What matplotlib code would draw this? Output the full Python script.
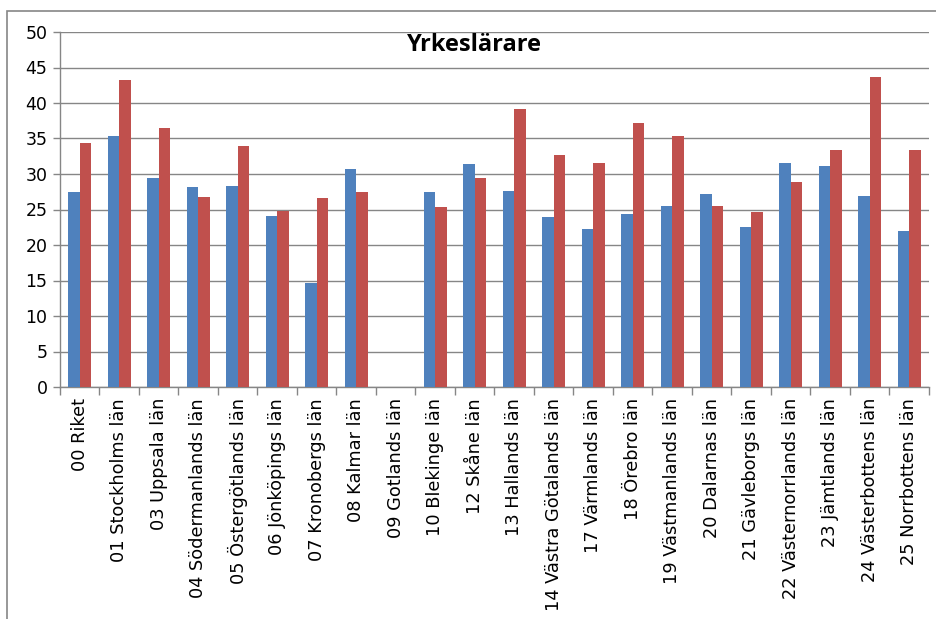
import matplotlib
matplotlib.use("Agg")
import matplotlib.pyplot as plt
import numpy as np

categories = ["00 Riket", "01 Stockholms län", "03 Uppsala län", "04 Södermanlands län",
              "05 Östergötlands län", "06 Jönköpings län", "07 Kronobergs län", "08 Kalmar län",
              "09 Gotlands län", "10 Blekinge län", "12 Skåne län", "13 Hallands län",
              "14 Västra Götalands län", "17 Värmlands län", "18 Örebro län", "19 Västmanlands län",
              "20 Dalarnas län", "21 Gävleborgs län", "22 Västernorrlands län", "23 Jämtlands län",
              "24 Västerbottens län", "25 Norrbottens län"]
blue_values = [27.4, 35.3, 29.5, 28.2, 28.3, 24.1, 14.6, 30.7, np.nan, 27.5, 31.4, 27.6,
               24.0, 22.2, 24.3, 25.5, 27.2, 22.5, 31.6, 31.1, 26.9, 22.0]
red_values = [34.3, 43.2, 36.5, 26.8, 33.9, 24.8, 26.6, 27.5, np.nan, 25.4, 29.4, 39.1,
              32.7, 31.6, 37.2, 35.3, 25.5, 24.7, 28.9, 33.4, 43.6, 33.4]
title = "Yrkeslärare"

fig = plt.figure(figsize=(9.37, 6.19), dpi=100)
# outer chart border
border = plt.Rectangle((7.5/937, -0.01), 1.0, (619-10.5)/619 + 0.01, transform=fig.transFigure,
                       fill=False, edgecolor="#868686", linewidth=1.2)
fig.patches.append(border)

ax = fig.add_axes([60/937, 1-387/619, (929-60)/937, (387-32)/619])
x = np.arange(len(categories))
w = 0.287
ax.bar(x - w/2, blue_values, width=w, color="#4F81BD", edgecolor="none", zorder=3)
ax.bar(x + w/2, red_values, width=w, color="#C0504D", edgecolor="none", zorder=3)

ax.set_xlim(-0.5, len(categories) - 0.5)
ax.set_ylim(0, 50)
ax.set_yticks(np.arange(0, 51, 5))
ax.yaxis.grid(True, color="#868686", linewidth=1.0, zorder=0)
ax.set_axisbelow(True)
ax.set_xticks(x)
ax.set_xticklabels(categories, rotation=90, fontsize=12.8, family="DejaVu Sans")
ax.tick_params(axis="x", length=0, pad=8)
ax.set_xticks(np.arange(-0.5, len(categories), 1), minor=True)
ax.tick_params(axis="x", which="minor", length=6, color="#868686", width=1)
ax.tick_params(axis="y", length=5, color="#868686", width=1, labelsize=12.5, pad=4)
for s in ["top", "right"]:
    ax.spines[s].set_visible(False)
for s in ["left", "bottom"]:
    ax.spines[s].set_color("#868686")
    ax.spines[s].set_linewidth(1.0)

ax.text(0.477, 0.998, title, transform=ax.transAxes, ha="center", va="top",
        fontsize=17, fontweight="bold", family="Open Sans")

fig.savefig("out.png", dpi=100)
